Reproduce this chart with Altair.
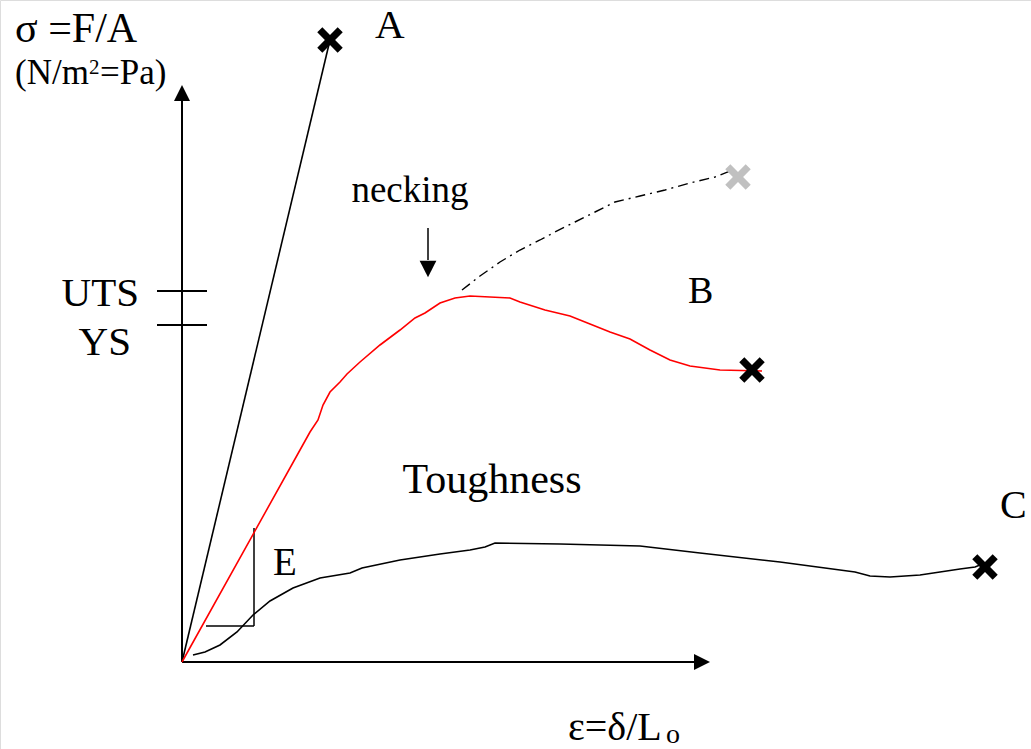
import altair as alt
import pandas as pd

# Schematic stress-strain diagram. Values are in diagram units:
# strain along x, stress along y, origin at the axes' corner.

# Curve A: brittle, straight to fracture
a_strain = [0, 148]
a_stress = [0, 622]

# Curve B: ductile, with necking after the maximum (UTS)
b_strain = [0, 118, 128, 136, 141, 148, 158, 165, 178, 198, 218, 233, 243, 258, 273, 288,
            328, 338, 363, 388, 408, 428, 448, 468, 488, 508, 538, 580]
b_stress = [0, 212, 230, 242, 257, 270, 280, 288, 300, 317, 332, 344, 349, 359, 364, 366,
            364, 360, 352, 346, 338, 330, 323, 312, 302, 296, 292, 291]

# True stress continuation past necking (dash-dot)
t_strain = [280, 298, 318, 338, 358, 373, 393, 413, 433, 458, 483, 508, 533, 548]
t_stress = [372, 386, 400, 412, 422, 430, 440, 450, 460, 466, 472, 479, 485, 491]

# Curve C: soft, very ductile
c_strain = [11, 23, 38, 55, 71, 88, 111, 138, 168, 180, 218, 258, 288, 303, 313, 378,
            458, 518, 598, 673, 688, 708, 738, 778, 793, 803]
c_stress = [7, 10, 17, 30, 47, 61, 74, 84, 89, 94, 102, 108, 112, 115, 119, 118,
            116, 109, 100, 90, 86, 85, 87, 93, 95, 99]

# Fracture points
frac_strain = [148, 570, 803]
frac_stress = [622, 292, 95]
frac_gray_strain = [556]
frac_gray_stress = [485]

# Stress levels marked on the stress axis
uts_level = 371
ys_level = 337

# Axis extents
strain_axis_end = 512
stress_axis_end = 562

# Slope triangle for the elastic modulus E
e_strain = [24, 72]
e_stress = [36, 134]

# Necking pointer
neck_strain = 246
neck_stress = [434, 402]

XS = alt.Scale(domain=[-182, 849], nice=False, zero=False)
YS = alt.Scale(domain=[-87, 662], nice=False, zero=False)
FONT = "Liberation Serif"


def X(f="x"):
    return alt.X(f"{f}:Q", scale=XS, axis=None)


def Y(f="y"):
    return alt.Y(f"{f}:Q", scale=YS, axis=None)


def curve(xs, ys, color, width, dash=None):
    df = pd.DataFrame({"x": xs, "y": ys, "i": range(len(xs))})
    kw = dict(color=color, strokeWidth=width)
    if dash:
        kw["strokeDash"] = dash
    return alt.Chart(df).mark_line(**kw).encode(x=X(), y=Y(), order="i:Q")


def segments(rows, width, color="black"):
    df = pd.DataFrame(rows, columns=["x", "y", "x2", "y2"])
    return alt.Chart(df).mark_rule(color=color, strokeWidth=width).encode(
        x=X(), y=Y(), x2="x2:Q", y2="y2:Q"
    )


X_SHAPE = ("M-1,-0.6L-0.6,-1L0,-0.4L0.6,-1L1,-0.6L0.4,0L1,0.6L0.6,1"
           "L0,0.4L-0.6,1L-1,0.6L-0.4,0Z")


def crosses(xs, ys, color):
    df = pd.DataFrame({"x": xs, "y": ys})
    return alt.Chart(df).mark_point(
        shape=X_SHAPE, filled=True, color=color, size=650, opacity=1
    ).encode(x=X(), y=Y())


def head(x, y, shape, size):
    df = pd.DataFrame({"x": [x], "y": [y]})
    return alt.Chart(df).mark_point(
        shape=shape, filled=True, color="black", size=size, opacity=1
    ).encode(x=X(), y=Y())


def label(text, x, y, size, align="left"):
    df = pd.DataFrame({"x": [x], "y": [y], "t": [text]})
    return alt.Chart(df).mark_text(
        font=FONT, fontSize=size, align=align, baseline="alphabetic", color="black"
    ).encode(x=X(), y=Y(), text="t:N")


layers = [
    # axes with arrowheads
    segments([[0, 0, 0, stress_axis_end], [0, 0, strain_axis_end, 0]], 2),
    head(0, 569, "M0,-1L1,1L-1,1Z", 256),
    head(520, 0, "M1,0L-1,-1L-1,1Z", 256),
    # UTS / YS ticks
    segments([[-25, uts_level, 25, uts_level], [-25, ys_level, 25, ys_level]], 2),
    # E slope triangle
    segments([[e_strain[1], e_stress[0], e_strain[1], e_stress[1]],
              [e_strain[0], e_stress[0], e_strain[1], e_stress[0]]], 1.5),
    # necking pointer
    segments([[neck_strain, neck_stress[0], neck_strain, neck_stress[1]]], 1.5),
    head(neck_strain, 393, "M0,1L1,-1L-1,-1Z", 280),
    # curves
    curve(a_strain, a_stress, "black", 1.6),
    curve(t_strain, t_stress, "black", 1.4, [10, 5, 2, 5]),
    curve(c_strain, c_stress, "black", 1.6),
    curve(b_strain, b_stress, "#ff0000", 1.6),
    # fracture marks
    crosses(frac_strain, frac_stress, "black"),
    crosses(frac_gray_strain, frac_gray_stress, "#c0c0c0"),
    # texts
    label("σ =F/A", -167, 620, 42),
    label("(N/m", -167, 578, 35),
    label("2", -93, 588, 21),
    label("=Pa)", -82, 578, 35),
    label("A", 193, 624, 41),
    label("UTS", -43, 356, 41, "right"),
    label("YS", -51, 307, 41, "right"),
    label("necking", 228, 460, 37, "center"),
    label("B", 506, 359, 38),
    label("Toughness", 310, 169, 42, "center"),
    label("E", 91, 87, 39),
    label("C", 818, 144, 40),
    label("ε=δ/L", 386, -78, 40),
    label("o", 484, -81, 28),
]

chart = alt.layer(*layers).properties(
    width=1031, height=749, padding=0, autosize=alt.AutoSizeParams(type="none")
).configure_view(stroke=None).configure(background="white")

chart.save("out.html", embed_options={"renderer": "svg", "actions": False})
